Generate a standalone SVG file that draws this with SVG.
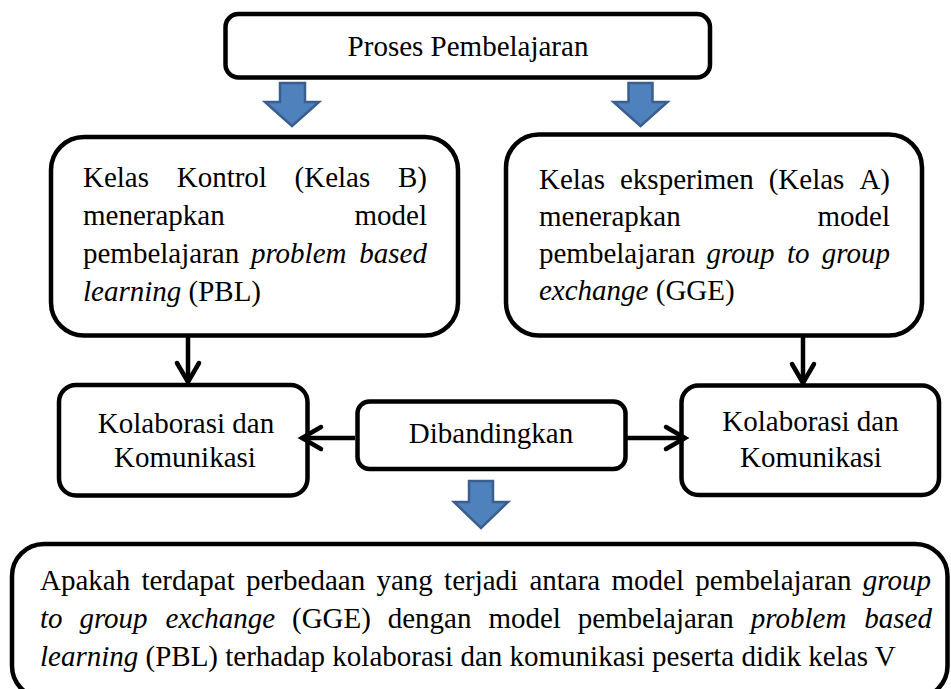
<svg xmlns="http://www.w3.org/2000/svg" width="951" height="689" viewBox="0 0 951 689">
  <defs>
    <style>
      .box { fill: #ffffff; stroke: #000000; stroke-width: 4.5; }
      .t { font-family: "Liberation Serif", "Times New Roman", serif; font-size: 29px; fill: #000000; }
      .i { font-style: italic; }
      .blk { fill: #4F81BD; stroke: #3A5F8E; stroke-width: 2.5; stroke-linejoin: miter; }
      .con { fill: none; stroke: #000000; stroke-width: 4.5; }
    </style>
    <marker id="open" markerUnits="userSpaceOnUse" viewBox="-4 -15 28 30" markerWidth="28" markerHeight="30" refX="20" refY="0" orient="auto" overflow="visible">
      <path d="M1,-11 L20,0 L1,11" fill="none" stroke="#000000" stroke-width="4.5" stroke-linecap="round" stroke-linejoin="miter"/>
    </marker>
  </defs>
  <rect width="951" height="689" fill="#ffffff"/>

  <g id="proses">
    <rect class="box" x="225.5" y="14" width="484.5" height="63.5" rx="13"/>
    <text class="t" x="468" y="56" text-anchor="middle">Proses Pembelajaran</text>
  </g>

  <g id="kelas-kontrol">
    <rect class="box" x="51" y="137" width="407" height="198.5" rx="33"/>
    <text class="t" y="187"><tspan x="83">Kelas</tspan><tspan x="176.7">Kontrol</tspan><tspan x="294.6">(Kelas</tspan></text>
    <text class="t" x="427" y="187" text-anchor="end">B)</text>
    <text class="t" x="83" y="225">menerapkan</text>
    <text class="t" x="427" y="225" text-anchor="end">model</text>
    <text class="t" y="263"><tspan x="83">pembelajaran</tspan><tspan class="i" x="250.9">problem</tspan></text>
    <text class="t i" x="427" y="263" text-anchor="end">based</text>
    <text class="t" x="83" y="301"><tspan class="i">learning</tspan> (PBL)</text>
  </g>

  <g id="kelas-eksperimen">
    <rect class="box" x="506" y="134.5" width="416" height="201" rx="33"/>
    <text class="t" y="189"><tspan x="539">Kelas</tspan><tspan x="620">eksperimen</tspan><tspan x="768.7">(Kelas</tspan></text>
    <text class="t" x="890" y="189" text-anchor="end">A)</text>
    <text class="t" x="539" y="226">menerapkan</text>
    <text class="t" x="890" y="226" text-anchor="end">model</text>
    <text class="t" y="263"><tspan x="539">pembelajaran</tspan><tspan class="i" x="706.4">group</tspan><tspan class="i" x="786.9">to</tspan></text>
    <text class="t i" x="890" y="263" text-anchor="end">group</text>
    <text class="t" x="539" y="300"><tspan class="i">exchange</tspan> (GGE)</text>
  </g>

  <g id="kolaborasi-kiri">
    <rect class="box" x="59" y="385" width="248.5" height="110.5" rx="17"/>
    <text class="t" x="186" y="433" text-anchor="middle">Kolaborasi dan</text>
    <text class="t" x="185" y="467" text-anchor="middle">Komunikasi</text>
  </g>

  <g id="dibandingkan">
    <rect class="box" x="357.5" y="401.5" width="268" height="67.5" rx="12"/>
    <text class="t" x="491" y="443" text-anchor="middle">Dibandingkan</text>
  </g>

  <g id="kolaborasi-kanan">
    <rect class="box" x="681.5" y="385.5" width="257.5" height="109.5" rx="17"/>
    <text class="t" x="810.5" y="431" text-anchor="middle">Kolaborasi dan</text>
    <text class="t" x="811" y="467" text-anchor="middle">Komunikasi</text>
  </g>

  <g id="kesimpulan">
    <rect class="box" x="12" y="544" width="935.5" height="154" rx="32"/>
    <text class="t" y="590"><tspan x="40">Apakah</tspan><tspan x="141.4">terdapat</tspan><tspan x="246.1">perbedaan</tspan><tspan x="376.5">yang</tspan><tspan x="444.1">terjadi</tspan><tspan x="529.4">antara</tspan><tspan x="611.5">model</tspan><tspan x="695.3">pembelajaran</tspan><tspan class="i" x="862.7">group</tspan></text>
    <text class="t" y="628"><tspan class="i" x="40">to</tspan><tspan class="i" x="79.4">group</tspan><tspan class="i" x="165.6">exchange</tspan><tspan x="292">(GGE)</tspan><tspan x="387.7">dengan</tspan><tspan x="488.4">model</tspan><tspan x="577.7">pembelajaran</tspan><tspan class="i" x="750.8">problem</tspan><tspan class="i" x="864.3">based</tspan></text>
    <text class="t" x="40" y="666"><tspan class="i">learning</tspan> (PBL) terhadap kolaborasi dan komunikasi peserta didik kelas V</text>
  </g>

  <g id="connectors">
    <polygon class="blk" points="280,83 305,83 305,102 319,102 292,126 265,102 280,102"/>
    <polygon class="blk" points="628.5,83 652.5,83 652.5,102 667.5,102 640.5,126 613.5,102 628.5,102"/>
    <polygon class="blk" points="469,481 493,481 493,502 508,502 481,528 454,502 469,502"/>
    <line class="con" x1="188" y1="337" x2="188" y2="382" marker-end="url(#open)"/>
    <line class="con" x1="803" y1="337" x2="803" y2="383" marker-end="url(#open)"/>
    <line class="con" x1="355" y1="438" x2="302" y2="438" marker-end="url(#open)"/>
    <line class="con" x1="627" y1="438" x2="685" y2="438" marker-end="url(#open)"/>
  </g>
</svg>
